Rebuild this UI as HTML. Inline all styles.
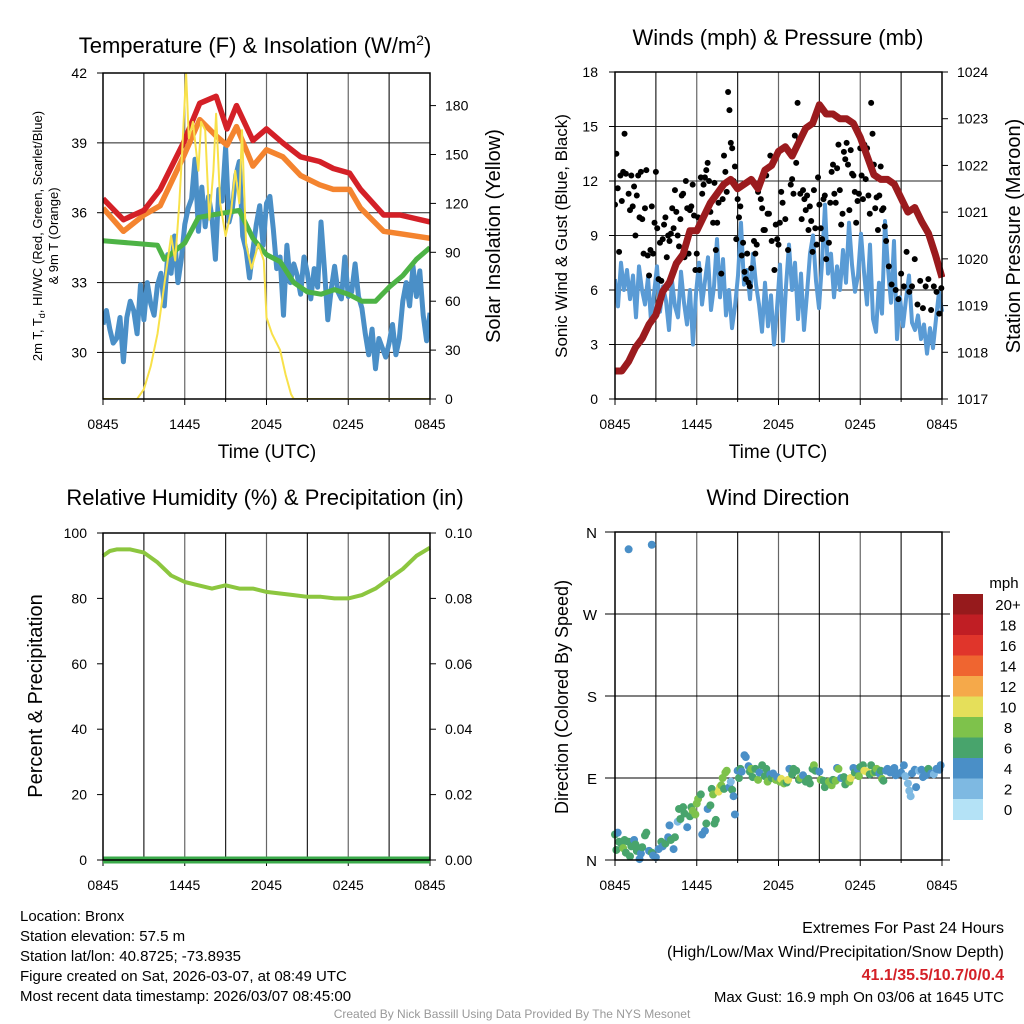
<!DOCTYPE html>
<html><head><meta charset="utf-8"><style>
html,body{margin:0;padding:0;background:#fff;}
svg{display:block;font-family:"Liberation Sans",Arial,sans-serif;}
</style></head><body>
<svg id="c" width="1024" height="1024" viewBox="0 0 1024 1024"></svg>
<script>
// ---------- DATA ----------
const hourTickLabels = ['0845','1445','2045','0245','0845'];
const tempTicks = [30,33,36,39,42];
const solarTicks = [0,30,60,90,120,150,180];
const windTicks = [0,3,6,9,12,15,18];
const presTicks = [1017,1018,1019,1020,1021,1022,1023,1024];
const rhTicks = [0,20,40,60,80,100];
const precipTicks = ['0.00','0.02','0.04','0.06','0.08','0.10'];
const dirTickLabels = ['N','E','S','W','N'];
const speedBinLabels = ['0','2','4','6','8','10','12','14','16','18','20+'];
const speedBinColors = ['#b4e2f6','#7eb9e2','#4a8fc7','#48a46c','#7ec24b','#e5df5a','#f5a94a','#ef6530','#e0352b','#c01e24','#961a1c'];

const redHours = [0,1.5,3,4.2,5.9,7.1,8.3,9.1,9.8,11,12,13.2,14.5,15.9,16.9,18.1,18.9,20.6,21.8,24];
const redTemp = [36.6,35.7,36.1,37.0,39.0,40.7,41.0,39.6,40.6,39.1,39.6,39.0,38.4,38.2,37.9,37.7,37.0,35.9,35.9,35.6];
const orangeTemp = [36.2,35.2,35.9,36.3,38.4,40.0,39.3,38.9,39.7,38.0,38.7,38.4,37.6,37.2,37.0,37.0,36.2,35.2,35.1,34.9];
const greenHours = [0,2,4,4.5,6,7,8,9,10,11,12,13,14,15,16,17,18,19,20,21,22,23,24];
const greenTemp = [34.8,34.7,34.6,34.0,34.7,35.8,35.9,36.0,36.1,34.9,34.2,33.9,33.0,32.6,32.5,32.7,32.5,32.2,32.2,32.8,33.3,34.0,34.5];
const blueTemp = [31.2,31.8,31.0,30.4,30.6,31.5,29.6,31.5,32.2,31.8,30.8,32.9,31.4,33.0,32.1,31.6,32.9,33.4,32.0,34.2,33.4,35.0,33.0,34.0,35.5,36.2,36.6,38.3,35.2,37.1,35.4,36.7,35.8,34.0,37.0,36.5,38.8,35.6,36.2,37.6,38.2,35.0,34.4,33.2,34.4,35.5,36.3,34.6,36.4,36.7,35.3,33.6,34.1,31.6,34.6,33.0,33.8,33.3,32.5,34.1,33.4,32.3,33.6,32.8,35.6,33.6,31.4,32.7,33.7,32.6,32.3,34.1,32.4,32.6,33.8,32.4,31.9,30.8,29.9,31.0,29.3,30.6,30.2,29.8,30.4,31.2,29.9,30.6,32.2,33.0,32.0,33.7,32.4,33.5,31.6,30.5,31.7];
const solarHours = [0,2.5,3,3.5,4,4.5,5,5.3,5.6,5.8,6.1,6.3,6.6,7,7.2,7.5,7.8,8.1,8.3,8.6,9,9.4,9.7,10,10.2,10.5,10.9,11.4,11.8,12,12.4,13,13.4,13.8,14,24];
const solarVals = [0,0,6,20,40,70,100,85,120,150,200,160,170,140,170,165,110,140,175,120,100,115,140,120,165,95,80,95,85,50,40,30,15,3,0,0];

const presHours = [0,0.5,1,1.5,2,2.5,3,3.5,4,4.5,5,5.5,6,6.5,7,7.5,8,8.5,9,9.5,10,10.5,11,11.5,12,12.5,13,13.5,14,14.5,15,15.5,16,16.5,17,17.5,18,18.5,19,19.5,20,20.5,21,21.5,22,22.5,23,23.5,24];
const presVals = [1017.6,1017.6,1017.8,1018.1,1018.3,1018.6,1018.8,1019.3,1019.5,1019.9,1020.1,1020.6,1020.6,1020.9,1021.2,1021.4,1021.6,1021.7,1021.5,1021.6,1021.7,1021.5,1021.9,1022.0,1022.3,1022.4,1022.2,1022.5,1022.8,1022.9,1023.3,1023.1,1023.1,1023.0,1023.0,1022.9,1022.6,1022.2,1021.8,1021.7,1021.7,1021.6,1021.3,1021.0,1021.1,1020.8,1020.55,1020.1,1019.6];
const windVals = [6.6,5.1,7.5,6.0,7.1,5.5,6.8,4.5,7.3,6.0,5.2,6.7,4.3,5.8,7.3,4.8,6.2,5.4,3.8,6.5,5.1,4.5,7.0,5.3,4.1,6.0,3.0,5.8,7.5,5.2,6.5,7.8,4.9,6.2,8.8,5.6,7.7,4.6,6.0,3.9,5.1,6.8,9.7,6.3,7.1,5.5,8.0,6.3,5.2,3.7,6.4,4.0,5.7,3.0,5.0,7.4,3.2,6.2,8.5,6.0,7.5,4.4,6.9,3.8,5.8,8.0,9.0,6.5,5.0,7.5,10.7,6.9,8.0,5.6,7.3,6.0,8.2,6.4,9.7,7.4,5.9,6.8,9.1,7.0,5.2,8.5,4.4,3.7,6.4,4.7,9.8,7.2,5.3,8.7,3.3,5.6,4.0,5.5,6.8,4.2,3.8,4.6,3.3,4.1,2.5,3.9,2.8,4.4,5.9,4.8];
const gustHours = [0,0.1,0.2,0.3,0.4,0.5,0.6,0.7,0.8,1,1.1,1.2,1.3,1.4,1.5,1.6,1.7,1.8,1.9,2,2.1,2.2,2.3,2.4,2.5,2.6,2.7,2.8,2.9,3,3.1,3.2,3.3,3.4,3.5,3.6,3.7,3.8,3.9,4,4.1,4.2,4.3,4.4,4.5,4.6,4.7,4.8,4.9,5,5.1,5.2,5.3,5.4,5.5,5.6,5.7,5.8,5.9,6,6.1,6.2,6.3,6.4,6.5,6.6,6.7,6.8,6.9,7,7.2,7.3,7.4,7.5,7.6,7.8,7.9,8,8.1,8.2,8.3,8.4,8.5,8.6,8.7,8.8,8.9,9,9.1,9.2,9.3,9.4,9.5,9.6,9.7,9.8,9.9,10,10.2,10.3,10.4,10.5,10.7,10.8,10.9,11,11.1,11.2,11.3,11.4,11.5,11.7,11.8,11.9,12,12.1,12.2,12.3,12.5,12.7,12.9,13,13.1,13.2,13.3,13.4,13.5,13.6,13.7,13.8,13.9,14,14.1,14.2,14.3,14.4,14.5,14.6,14.7,14.8,14.9,15,15.1,15.2,15.3,15.4,15.5,15.7,15.8,15.9,16,16.1,16.2,16.3,16.4,16.5,16.6,16.7,16.8,16.9,17,17.1,17.2,17.3,17.4,17.5,17.6,17.7,17.8,17.9,18,18.1,18.2,18.3,18.4,18.5,18.6,18.7,18.8,18.9,19,19.1,19.2,19.3,19.4,19.5,19.6,19.7,19.8,19.9,20.1,20.3,20.6,20.8,21.0,21.2,21.4,21.6,21.8,22.0,22.2,22.4,22.6,22.8,23.0,23.2,23.4,23.6,23.8,23.95];
const gustVals = [10.7,13.5,11.6,8.1,12.3,10.9,12.5,14.6,12.4,11.3,10.4,12.3,10.6,11.7,9.0,11.2,12.3,10.0,12.5,9.9,8.0,10.5,12.6,7.9,6.8,8.2,10.6,8.0,9.7,12.5,9.4,6.6,8.6,6.5,8.8,9.6,10.0,7.8,9.0,8.7,9.1,10.5,9.4,11.5,10.3,9.0,8.4,9.9,11.2,11.3,7.8,12.0,10.5,8.0,10.4,10.6,11.8,10.1,7.1,8.0,10.0,7.1,12.2,11.3,11.8,12.2,12.6,13.0,12.0,10.3,9.7,11.9,8.2,9.7,10.8,6.9,11.0,13.4,12.5,11.4,16.9,15.9,14.1,13.8,12.0,12.8,8.8,11.0,10.0,10.6,7.9,8.6,7.0,6.6,8.0,6.4,6.2,7.2,8.7,8.0,8.5,11.4,11.0,10.5,9.3,9.3,12.3,10.2,10.2,13.4,8.7,7.1,9.6,8.8,8.5,9.7,11.4,10.8,9.9,8.2,11.8,12.1,11.3,14.5,13.0,16.3,14.3,11.3,9.9,11.5,11.0,10.4,11.2,9.3,10.6,9.8,8.1,11.5,9.4,8.5,12.2,10.7,9.4,8.8,11.0,11.2,7.7,8.6,10.8,12.5,12.9,11.3,10.8,12.7,14.0,11.5,9.6,10.2,13.6,13.2,14.1,12.9,10.4,13.7,12.4,12.3,11.4,9.7,10.9,11.3,13.8,12.3,11.0,14.0,12.1,13.8,11.2,10.2,16.3,14.6,12.9,10.5,11.1,9.3,11.2,12.8,10.4,10.5,9.5,8.7,7.3,6.3,6.0,5.5,6.9,6.2,8.1,5.9,6.2,7.7,5.2,6.5,5.0,6.2,6.6,4.9,6.2,5.9,4.7,6.1,7.1,6.4,7.4];

const rhHours = [0,0.5,1,2,3,4,5,6,7,8,9,10,11,12,13,14,15,16,17,18,19,20,21,22,23,24];
const rhVals = [93,94.5,95,95,94,91,87,85,84,83,84,83,83,82,81.5,81,80.5,80.5,80,80,81,83,86,89,93,95.5];
const precipHours = [0,24];
const precipVals = [0,0];

const dirHours = [0,0.1,0.2,0.3,0.5,0.6,0.7,0.8,1,1.1,1.2,1.4,1.5,1.6,1.8,1.9,2,2.2,2.3,2.5,2.7,2.8,3,3.2,3.4,3.5,3.7,3.9,4,4.1,4.3,4.4,4.6,4.7,4.8,5,5.1,5.3,5.5,5.6,5.7,5.9,6,6.1,6.3,6.4,6.6,6.7,6.8,7,7.1,7.2,7.3,7.4,7.6,7.7,7.8,7.9,8,8.1,8.2,8.4,8.5,8.6,8.7,8.8,9,9.1,9.2,9.3,9.5,9.6,9.8,9.9,10,10.1,10.3,10.5,10.6,10.8,11,11.1,11.2,11.4,11.5,11.6,11.8,11.9,12.1,12.2,12.4,12.6,12.7,12.8,13,13.1,13.3,13.5,13.6,13.8,14,14.2,14.3,14.5,14.6,14.7,15,15.1,15.3,15.4,15.6,15.7,15.9,16,16.2,16.3,16.4,16.6,16.8,16.9,17,17.2,17.3,17.5,17.6,17.8,17.9,18,18.2,18.3,18.5,18.7,18.8,19,19.1,19.2,19.4,19.5,19.6,19.7,19.9,20,20.2,20.4,20.5,20.6,20.8,21,21.2,21.3,21.5,21.6,21.7,21.8,22,22.1,22.3,22.5,22.6,22.8,23,23.2,23.4,23.6,23.8,23.9,1,2.7];
const dirVals = [28,11,30,20,17,13,22,8,20,4,15,22,17,10,1,7,14,27,30,10,8,5,3,12,20,15,18,25,38,22,12,25,42,56,45,58,51,36,48,58,54,50,62,67,72,28,32,40,56,60,78,72,40,44,75,80,82,90,78,96,98,80,86,77,70,50,98,90,100,97,115,113,103,97,100,91,100,88,96,104,92,100,86,94,90,95,88,91,86,89,84,85,88,100,94,100,98,88,90,93,86,89,84,100,104,98,97,88,87,80,85,86,82,88,87,101,100,90,91,83,88,86,90,101,96,100,92,102,104,98,97,94,104,96,97,100,95,98,89,87,98,100,96,97,101,93,95,96,104,92,84,76,70,95,99,80,98,99,91,93,100,95,94,100,99,104,341,346];
const dirSpeeds = [6,6,4,6,6,8,6,6,6,6,6,4,6,6,4,4,6,6,6,4,6,4,4,4,6,4,6,4,4,6,4,6,2,6,6,6,6,4,6,6,8,8,8,8,6,4,4,6,4,6,6,8,6,6,10,10,8,8,6,8,8,4,2,6,4,4,4,6,6,4,4,4,4,6,8,6,6,8,4,6,6,6,8,4,6,4,8,4,8,10,8,6,10,4,6,6,6,6,8,4,6,6,6,6,8,6,4,8,6,6,6,8,8,6,8,4,8,4,6,6,6,8,10,4,6,4,8,6,6,10,10,6,6,8,6,8,4,6,8,6,4,4,4,4,4,4,4,4,4,2,2,2,2,4,4,4,2,4,4,4,6,4,2,4,4,4,4,4];

// ---------- helpers ----------
const NS='http://www.w3.org/2000/svg';
const svg=document.getElementById('c');
function mk(tag,attrs,parent){const e=document.createElementNS(NS,tag);for(const k in attrs)e.setAttribute(k,attrs[k]);(parent||svg).appendChild(e);return e;}
function txt(s,x,y,size,anchor,extra){const t=mk('text',Object.assign({x:x,y:y,'font-size':size,'text-anchor':anchor||'middle',fill:'#000'},extra||{}));t.textContent=s;return t;}
function lin(d0,d1,r0,r1){return v=>r0+(v-d0)/(d1-d0)*(r1-r0);}
function pathD(xs,ys,fx,fy){return xs.map((x,i)=>(i?'L':'M')+fx(x).toFixed(1)+','+fy(ys[i]).toFixed(1)).join('');}

function panelFrame(x0,x1,y0,y1,hLines,name){
  const g=mk('g',{});
  
  
  const fx=lin(0,24,x0,x1);
  for(let h=3;h<24;h+=3){mk('line',{x1:fx(h),x2:fx(h),y1:y0,y2:y1,stroke:h%6?'#222':'#666','stroke-width':1.2},g);}
  hLines.forEach(y=>mk('line',{x1:x0,x2:x1,y1:y,y2:y,stroke:'#222','stroke-width':1},g));
  for(let h=0;h<=24;h+=6){mk('line',{x1:fx(h),x2:fx(h),y1:y1,y2:y1+6,stroke:'#000'},g);}
  for(let h=3;h<24;h+=6){mk('line',{x1:fx(h),x2:fx(h),y1:y1,y2:y1+3,stroke:'#000'},g);}
  hourTickLabels.forEach((s,i)=>{const t=txt(s,fx(i*6),y1+30,14);});
  return fx;
}
function frame(x0,x1,y0,y1,name){
  const r=mk('rect',{x:x0,y:y0,width:x1-x0,height:y1-y0,fill:'none',stroke:'#000','stroke-width':1.5});
  
  
}

// ---------- Panel 1 ----------
(function(){
  const x0=103,x1=430,y0=73,y1=399;
  const fy=lin(28,42,399,73), fs=lin(0,200,399,73);
  const fx=panelFrame(x0,x1,y0,y1,tempTicks.map(fy),'temp-panel');
  const t=txt('Temperature (F) & Insolation (W/m',255,53,22);
  const sup=mk('tspan',{dy:-8,'font-size':14});sup.textContent='2';t.appendChild(sup);
  const s2=mk('tspan',{dy:8});s2.textContent=')';t.appendChild(s2);
  tempTicks.forEach(v=>{mk('line',{x1:x0-6,x2:x0,y1:fy(v),y2:fy(v),stroke:'#000'});const l=txt(String(v),87,fy(v)+5,14,'end');});
  solarTicks.forEach(v=>{mk('line',{x1:x1,x2:x1+6,y1:fs(v),y2:fs(v),stroke:'#000'});const l=txt(String(v),445,fs(v)+5,14,'start');});
  const lab=txt('',0,0,13,'middle',{transform:'translate(42,236) rotate(-90)'});
  
  
  lab.innerHTML='2m T, T<tspan font-size="9" dy="3">d</tspan><tspan dy="-3">, HI/WC (Red, Green, Scarlet/Blue)</tspan>';
  const lab2=txt('& 9m T (Orange)',0,0,13,'middle',{transform:'translate(58,236) rotate(-90)'});
  
  
  const rl=txt('Solar Insolation (Yellow)',0,0,20,'middle',{transform:'translate(500,236) rotate(-90)'});
  
  
  const xl=txt('Time (UTC)',267,458,19);
  const cp=mk('clipPath',{id:'cp1'});mk('rect',{x:x0,y:y0,width:x1-x0,height:y1-y0},cp);
  const g=mk('g',{'clip-path':'url(#cp1)'});
  const bh=blueTemp.map((_,i)=>i*24/(blueTemp.length-1));
  const pb=mk('path',{d:pathD(bh,blueTemp,fx,fy),fill:'none',stroke:'#4a8fc7','stroke-width':5,'stroke-linejoin':'round'},g);
  
  const pg=mk('path',{d:pathD(greenHours,greenTemp,fx,fy),fill:'none',stroke:'#4db345','stroke-width':5,'stroke-linejoin':'round'},g);
  
  const po=mk('path',{d:pathD(redHours,orangeTemp,fx,fy),fill:'none',stroke:'#f4842f','stroke-width':5.5,'stroke-linejoin':'round'},g);
  
  const pr=mk('path',{d:pathD(redHours,redTemp,fx,fy),fill:'none',stroke:'#d42027','stroke-width':5.5,'stroke-linejoin':'round'},g);
  
  const py=mk('path',{d:pathD(solarHours,solarVals,fx,fs),fill:'none',stroke:'#f8e14a','stroke-width':2,'stroke-linejoin':'round'},g);
  
  frame(x0,x1,y0,y1,'temp-panel');
})();

// ---------- Panel 2 ----------
(function(){
  const x0=615,x1=942,y0=72,y1=399;
  const fy=lin(0,18,399,72), fp=lin(1017,1024,399,72);
  const fx=panelFrame(x0,x1,y0,y1,windTicks.map(fy),'wind-panel');
  const t=txt('Winds (mph) & Pressure (mb)',778,45,22);
  windTicks.forEach(v=>{mk('line',{x1:x0-6,x2:x0,y1:fy(v),y2:fy(v),stroke:'#000'});const l=txt(String(v),598,fy(v)+5,14,'end');});
  presTicks.forEach(v=>{mk('line',{x1:x1,x2:x1+6,y1:fp(v),y2:fp(v),stroke:'#000'});const l=txt(String(v),957,fp(v)+5,14,'start');});
  const ll=txt('Sonic Wind & Gust (Blue, Black)',0,0,17,'middle',{transform:'translate(567,236) rotate(-90)'});
  
  const rl=txt('Station Pressure (Maroon)',0,0,20,'middle',{transform:'translate(1020,236) rotate(-90)'});
  
  const xl=txt('Time (UTC)',778,458,19);
  const cp=mk('clipPath',{id:'cp2'});mk('rect',{x:x0,y:y0-3,width:x1-x0+3,height:y1-y0+3},cp);
  const g=mk('g',{'clip-path':'url(#cp2)'});
  const wh=windVals.map((_,i)=>i*24/(windVals.length-1));
  const pw=mk('path',{d:pathD(wh,windVals,fx,fy),fill:'none',stroke:'#5a9bd5','stroke-width':4,'stroke-linejoin':'round'},g);
  
  gustHours.forEach((h,i)=>{const c=mk('circle',{cx:fx(h),cy:fy(gustVals[i]),r:3,fill:'#000'},g);
    
    });
  const pp=mk('path',{d:pathD(presHours,presVals,fx,fp),fill:'none',stroke:'#9b1b1e','stroke-width':7,'stroke-linejoin':'round'},g);
  
  frame(x0,x1,y0,y1,'wind-panel');
})();

// ---------- Panel 3 ----------
(function(){
  const x0=103,x1=430,y0=533,y1=860;
  const fy=lin(0,100,860,533), fpr=lin(0,0.10,860,533);
  const fx=panelFrame(x0,x1,y0,y1,[],'rh-panel');
  const t=txt('Relative Humidity (%) & Precipitation (in)',265,505,22);
  rhTicks.forEach(v=>{mk('line',{x1:x0-6,x2:x0,y1:fy(v),y2:fy(v),stroke:'#000'});const l=txt(String(v),87,fy(v)+5,14,'end');});
  precipTicks.forEach(s=>{const v=parseFloat(s);mk('line',{x1:x1,x2:x1+6,y1:fpr(v),y2:fpr(v),stroke:'#000'});const l=txt(s,445,fpr(v)+5,14,'start');});
  const ll=txt('Percent & Precipitation',0,0,20,'middle',{transform:'translate(42,696) rotate(-90)'});
  
  const pr=mk('path',{d:pathD(rhHours,rhVals,fx,fy),fill:'none',stroke:'#8cc63f','stroke-width':4,'stroke-linejoin':'round'});
  
  const pp=mk('path',{d:pathD(precipHours,precipVals,fx,fpr),fill:'none',stroke:'#3aaa4a','stroke-width':7});
  
  frame(x0,x1,y0,y1,'rh-panel');
})();

// ---------- Panel 4 ----------
(function(){
  const x0=615,x1=942,y0=532,y1=860;
  const fy=lin(0,360,860,532);
  const fx=panelFrame(x0,x1,y0,y1,[0,90,180,270,360].map(fy),'dir-panel');
  const t=txt('Wind Direction',778,505,22);
  dirTickLabels.forEach((s,i)=>{const y=fy(i*90);mk('line',{x1:x0-10,x2:x1+8,y1:y,y2:y,stroke:'#000'});const l=txt(s,597,y+6,15,'end');});
  const ll=txt('Direction (Colored By Speed)',0,0,18,'middle',{transform:'translate(568,697) rotate(-90)'});
  
  dirHours.forEach((h,i)=>{const bin=Math.min(10,Math.floor(dirSpeeds[i]/2));
    const c=mk('circle',{cx:fx(h),cy:fy(dirVals[i]),r:4,fill:speedBinColors[bin]});
    
    });
  frame(x0,x1,y0,y1,'dir-panel');
  const cbTop=594,cbH=20.5;
  const u=txt('mph',1004,588,15,'middle');
  speedBinColors.slice().reverse().forEach((col,j)=>{
    const r=mk('rect',{x:953,y:cbTop+j*cbH,width:30,height:cbH+0.5,fill:col});
    
    
    const l=txt(speedBinLabels[10-j],1008,cbTop+j*cbH+16,15,'middle');
    
    
  });
})();

// ---------- footer ----------
const leftLines=['Location: Bronx','Station elevation: 57.5 m','Station lat/lon: 40.8725; -73.8935','Figure created on Sat, 2026-03-07, at 08:49 UTC','Most recent data timestamp: 2026/03/07 08:45:00'];
leftLines.forEach((s,i)=>{const t=txt(s,20,921+i*20,15,'start');});
const r1=txt('Extremes For Past 24 Hours',1004,933,16,'end');
const r2=txt('(High/Low/Max Wind/Precipitation/Snow Depth)',1004,957,16,'end');
const r3=txt('41.1/35.5/10.7/0/0.4',1004,980,16,'end',{fill:'#d42027','font-weight':'bold'});
const r4=txt('Max Gust: 16.9 mph On 03/06 at 1645 UTC',1004,1002,15,'end');
const cr=txt('Created By Nick Bassill Using Data Provided By The NYS Mesonet',512,1018,12,'middle',{fill:'#999'});
</script>
</body></html>
